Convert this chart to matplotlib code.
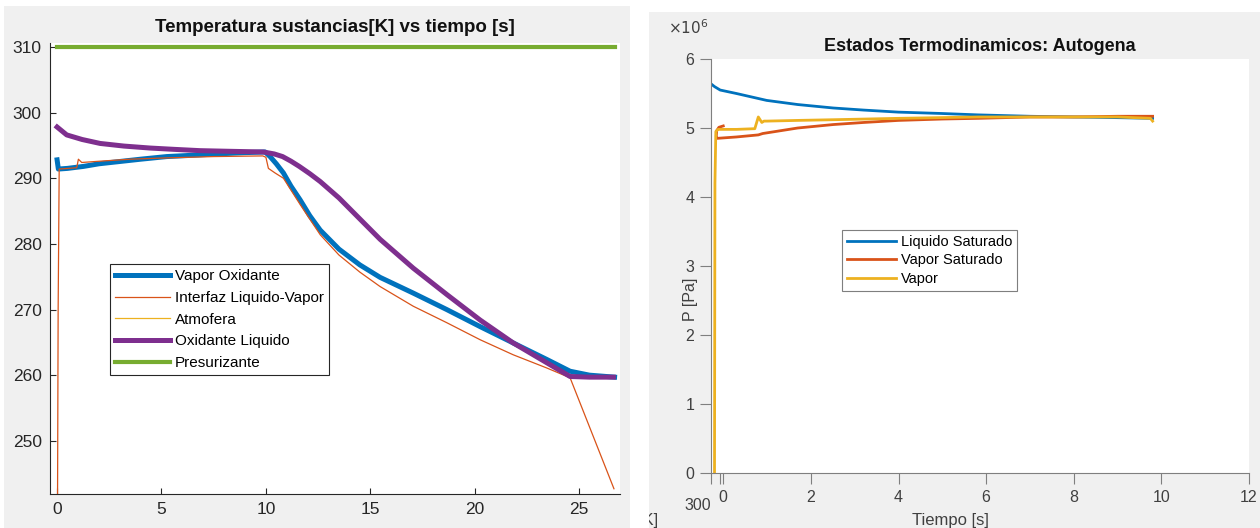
import matplotlib.pyplot as plt
from matplotlib.patches import Rectangle
from matplotlib.ticker import FuncFormatter

plt.rcParams['font.family'] = ['Liberation Sans', 'DejaVu Sans']

# ---- datos panel izquierdo: temperatura [K] vs tiempo [s] ----
t_vap = [0, 0.06, 0.5, 1.26, 2.0, 2.86, 4.0, 5.25, 6.5, 7.65, 9.0, 9.96, 10.2, 10.5, 10.84,
         11.2, 11.64, 12.1, 12.6, 13.5, 14.5, 15.47, 17.06, 18.66, 20.26, 21.85, 23.45, 24.57,
         25.5, 26.7]
T_vap = [292.8, 291.4, 291.5, 291.8, 292.2, 292.5, 292.9, 293.3, 293.5, 293.7, 293.9, 294.0,
         293.3, 292.2, 290.8, 288.8, 286.7, 284.3, 282.1, 279.2, 276.8, 274.9, 272.5, 270.0,
         267.4, 264.9, 262.4, 260.6, 260.0, 259.7]

t_int = [0.02, 0.05, 0.1, 0.94, 1.02, 1.18, 2.06, 3.5, 5.25, 7.5, 9.85, 10.0, 10.12, 10.44,
         10.84, 11.64, 12.6, 13.5, 14.5, 15.47, 17.06, 18.66, 20.26, 21.85, 23.45, 24.57, 26.67]
T_int = [240.0, 270.0, 291.4, 291.6, 292.9, 292.4, 292.6, 292.9, 293.1, 293.3, 293.4, 293.2,
         291.5, 290.8, 290.0, 286.0, 281.4, 278.3, 275.7, 273.5, 270.5, 268.0, 265.4, 263.1,
         261.1, 259.6, 242.7]

t_atm = [0, 26.7]
T_atm = [310, 310]

t_liq = [0, 0.46, 1.2, 2.06, 3.2, 4.45, 5.6, 6.85, 8.3, 9.88, 10.4, 10.8, 11.2, 11.6, 12.1,
         12.6, 13.5, 14.5, 15.47, 17.06, 18.66, 20.26, 21.85, 23.45, 24.57, 25.5, 26.64]
T_liq = [297.8, 296.6, 295.9, 295.3, 294.9, 294.6, 294.4, 294.2, 294.1, 294.0, 293.7, 293.3,
         292.6, 291.8, 290.7, 289.5, 287.0, 283.8, 280.7, 276.3, 272.3, 268.4, 264.9, 261.9,
         259.8, 259.7, 259.7]

t_pres = [0, 26.7]
T_pres = [310, 310]

# ---- datos panel derecho: presion [Pa] vs tiempo [s] ----
t_ls = [-0.28, -0.2, -0.07, 0.3, 0.99, 1.7, 2.51, 3.2, 4.0, 5.0, 5.82, 7.0, 8.0, 9.0, 9.8]
P_ls = [5.64e6, 5.60e6, 5.55e6, 5.50e6, 5.40e6, 5.34e6, 5.29e6, 5.26e6, 5.23e6, 5.21e6,
        5.19e6, 5.17e6, 5.16e6, 5.15e6, 5.14e6]

t_vs = [0.0, -0.1, -0.15, -0.16, -0.14, 0.3, 0.8, 0.9, 1.7, 2.51, 3.2, 4.0, 5.0, 5.82, 7.0,
        8.0, 9.0, 9.8]
P_vs = [5.03e6, 5.01e6, 4.96e6, 4.88e6, 4.85e6, 4.87e6, 4.90e6, 4.92e6, 5.00e6, 5.05e6,
        5.08e6, 5.11e6, 5.13e6, 5.14e6, 5.16e6, 5.16e6, 5.17e6, 5.17e6]

t_v = [-0.2, -0.19, -0.17, -0.12, 0.3, 0.72, 0.8, 0.84, 0.88, 0.93, 1.0, 1.7, 2.51, 4.0,
       5.82, 7.0, 8.0, 9.0, 9.75, 9.8]
P_v = [0.0, 4.2e6, 4.95e6, 4.98e6, 4.98e6, 4.99e6, 5.16e6, 5.12e6, 5.08e6, 5.10e6, 5.10e6,
       5.11e6, 5.12e6, 5.14e6, 5.16e6, 5.16e6, 5.16e6, 5.16e6, 5.14e6, 5.10e6]

W, H = 1260, 528
fig = plt.figure(figsize=(W / 100, H / 100), dpi=100, facecolor='white')

# fondos grises estilo MATLAB (debajo de los ejes)
fig.patches.append(Rectangle((4 / W, 0), (630 - 4) / W, (H - 6) / H, transform=fig.transFigure,
                             facecolor='#f0f0f0', edgecolor='none', zorder=-10))
fig.patches.append(Rectangle((649 / W, 0), (W - 649) / W, (H - 12) / H, transform=fig.transFigure,
                             facecolor='#f0f0f0', edgecolor='none', zorder=-10))

txt = '#262626'

# ---------------- panel izquierdo ----------------
ax1 = fig.add_axes([50 / W, 34 / H, 570 / W, 451 / H])
ax1.plot(t_vap, T_vap, color='#0072BD', lw=3.6, label='Vapor Oxidante')
ax1.plot(t_int, T_int, color='#D95319', lw=0.9, label='Interfaz Liquido-Vapor')
ax1.plot(t_atm, T_atm, color='#EDB120', lw=0.9, label='Atmofera')
ax1.plot(t_liq, T_liq, color='#7E2F8E', lw=3.6, label='Oxidante Liquido')
ax1.plot(t_pres, T_pres, color='#77AC30', lw=3.0, label='Presurizante')

ax1.set_xlim(-0.34, 26.96)
ax1.set_ylim(241.9, 310.6)
ax1.set_xticks([0, 5, 10, 15, 20, 25])
ax1.set_yticks([250, 260, 270, 280, 290, 300, 310])
ax1.tick_params(direction='in', length=4, width=0.8, labelsize=12.5, colors=txt, pad=6)
for s in ['top', 'right']:
    ax1.spines[s].set_visible(False)
for s in ['left', 'bottom']:
    ax1.spines[s].set_color(txt)
ax1.set_title('Temperatura sustancias[K] vs tiempo [s]', fontsize=13.5, fontweight='bold',
              color='#111111', pad=8)
leg1 = ax1.legend(loc='upper left', bbox_to_anchor=(0.105, 0.51), fontsize=11,
                  handlelength=3.6, fancybox=False, framealpha=1, edgecolor=txt,
                  borderpad=0.35, labelspacing=0.5, handletextpad=0.3, borderaxespad=0)
leg1.get_frame().set_linewidth(0.8)

# ---------------- panel derecho ----------------
ax2 = fig.add_axes([711 / W, 55 / H, 538 / W, 414 / H])
ax2.plot(t_ls, P_ls, color='#0072BD', lw=2.0, label='Liquido Saturado')
ax2.plot(t_vs, P_vs, color='#D95319', lw=2.0, label='Vapor Saturado')
ax2.plot(t_v, P_v, color='#EDB120', lw=2.0, label='Vapor')

ax2.set_xlim(-0.28, 12)
ax2.set_ylim(0, 6e6)
ax2.set_xticks([0, 2, 4, 6, 8, 10, 12])
ax2.set_xticks([-0.28, -0.07], minor=True)
ax2.set_yticks([0, 1e6, 2e6, 3e6, 4e6, 5e6, 6e6])
ax2.yaxis.set_major_formatter(FuncFormatter(lambda v, p: f'{v / 1e6:g}'))
gray = '#7f7f7f'
ax2.tick_params(which='both', direction='out', length=8, width=0.8, labelsize=11.5,
                colors=gray, labelcolor='#404040', pad=4)
for s in ['top', 'right']:
    ax2.spines[s].set_visible(False)
for s in ['left', 'bottom']:
    ax2.spines[s].set_color(gray)
ax2.set_title('Estados Termodinamicos: Autogena', fontsize=13, fontweight='bold',
              color='#111111', pad=6)
ax2.set_ylabel('P [Pa]', fontsize=11.5, color='#404040')
ax2.yaxis.set_label_coords(-0.025, 0.42)
ax2.set_xlabel('Tiempo [s]', fontsize=12, color='#404040')
ax2.xaxis.set_label_coords(0.445, -0.097)
leg2 = ax2.legend(loc='upper left', bbox_to_anchor=(0.243, 0.587), fontsize=10.5,
                  handlelength=3.4, fancybox=False, framealpha=1, edgecolor=gray,
                  borderpad=0.35, labelspacing=0.3, handletextpad=0.3, borderaxespad=0)
leg2.get_frame().set_linewidth(0.8)

# restos de otros ejes superpuestos en la captura
fig.text(668 / W, 1 - 28 / H, r'$\times10^{6}$', fontsize=11, color='#404040', va='center')
fig.text(698 / W, 1 - 505 / H, '300', fontsize=11.5, color='#404040', ha='center', va='center')
fig.text(659 / W, 1 - 521 / H, '[K]', fontsize=12, color='#404040', ha='right', va='center',
         zorder=1)
fig.patches.append(Rectangle((630 / W, 0), 19 / W, 1, transform=fig.transFigure,
                             facecolor='white', edgecolor='none', zorder=5))

fig.savefig('out.png', dpi=100)
